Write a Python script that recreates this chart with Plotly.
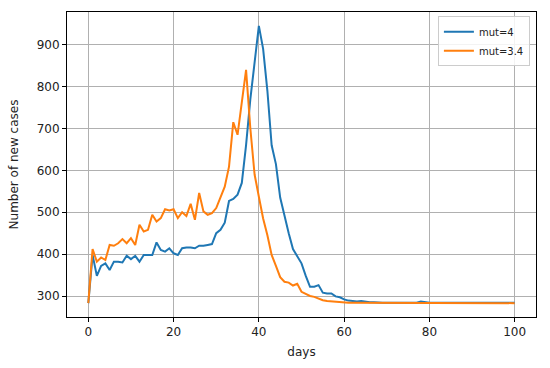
import plotly.graph_objects as go

days = list(range(0, 101))

mut4 = [283, 398, 348, 372, 378, 362, 382, 382, 380, 396, 388, 396, 382, 398, 398, 398, 428, 410, 406, 414, 402,
        398, 414, 416, 416, 414, 420, 420, 422, 424, 450, 458, 475, 527, 532, 542, 570, 660, 770, 860, 945,
        890, 790, 660, 615, 535, 490, 450, 412, 395, 378, 348, 322, 322, 326, 308, 306, 306, 299, 297, 292,
        289, 288, 287, 288, 286, 285, 285, 284, 284, 284, 284, 284, 284, 284, 284, 284, 284, 287, 285, 284,
        284, 284, 284, 284, 284, 284, 284, 284, 284, 284, 284, 284, 284, 284, 284, 284, 284, 284, 284, 284]

mut34 = [283, 412, 382, 392, 386, 422, 420, 426, 436, 426, 438, 422, 470, 454, 458, 494, 478, 486, 507, 504, 507,
         486, 500, 491, 520, 482, 546, 502, 494, 498, 510, 538, 561, 609, 715, 685, 760, 840, 700, 590, 537,
         485, 445, 398, 372, 345, 334, 332, 325, 329, 310, 304, 300, 298, 294, 290, 288, 287, 286, 285, 285,
         284, 284, 284, 283, 284, 283, 283, 283, 283, 283, 283, 283, 283, 283, 283, 283, 283, 284, 283, 283,
         283, 283, 283, 283, 283, 283, 283, 283, 283, 283, 283, 283, 283, 283, 283, 283, 283, 283, 283, 283]

x_ticks = [0, 20, 40, 60, 80, 100]
y_ticks = [300, 400, 500, 600, 700, 800, 900]

fig = go.Figure()
fig.add_trace(go.Scatter(x=days, y=mut4, mode="lines", name="mut=4",
                         line=dict(color="#1f77b4", width=2)))
fig.add_trace(go.Scatter(x=days, y=mut34, mode="lines", name="mut=3.4",
                         line=dict(color="#ff7f0e", width=2)))

axis_common = dict(showgrid=True, gridcolor="#b0b0b0", gridwidth=1,
                   showline=True, linecolor="black", linewidth=1, mirror=True,
                   ticks="outside", ticklen=4, tickcolor="black", zeroline=False,
                   automargin=False,
                   tickfont=dict(size=12, color="#222"))

fig.update_layout(
    width=550, height=368,
    margin=dict(l=67, r=14, t=12, b=51),
    paper_bgcolor="white", plot_bgcolor="white",
    font=dict(family="DejaVu Sans", size=12, color="#222"),
    xaxis=dict(range=[-5, 105], tickvals=x_ticks,
               title=dict(text="days", font=dict(size=12), standoff=9), **axis_common),
    yaxis=dict(range=[249.9, 978.1], tickvals=y_ticks,
               title=dict(text="Number of new cases", font=dict(size=12), standoff=15), **axis_common),
    legend=dict(x=0.987, y=0.986, xanchor="right", yanchor="top",
                bgcolor="rgba(255,255,255,0.85)", bordercolor="#cccccc", borderwidth=1,
                font=dict(size=10), itemwidth=30),
    showlegend=True,
)

fig.write_html("out.html", config={"displayModeBar": False},
               post_script="document.body.style.margin='0';document.body.style.padding='0';")
